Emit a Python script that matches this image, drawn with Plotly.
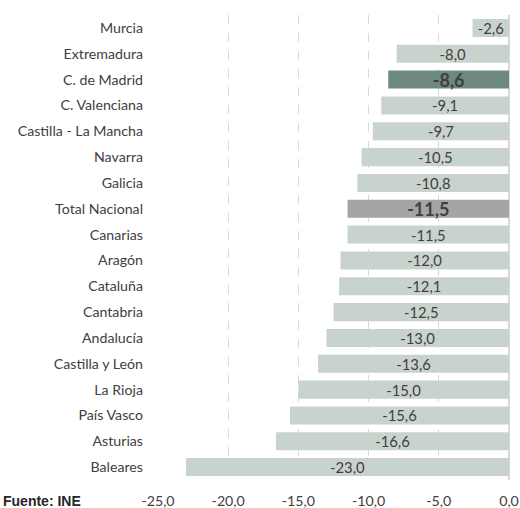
import plotly.graph_objects as go

categories = ["Murcia", "Extremadura", "C. de Madrid", "C. Valenciana", "Castilla - La Mancha",
              "Navarra", "Galicia", "Total Nacional", "Canarias", "Aragón", "Cataluña",
              "Cantabria", "Andalucía", "Castilla y León", "La Rioja", "País Vasco",
              "Asturias", "Baleares"]
values = [-2.6, -8.0, -8.6, -9.1, -9.7, -10.5, -10.8, -11.5, -11.5, -12.0, -12.1,
          -12.5, -13.0, -13.6, -15.0, -15.6, -16.6, -23.0]
tick_values = [-25, -20, -15, -10, -5, 0]
tick_labels = ["-25,0", "-20,0", "-15,0", "-10,0", "-5,0", "0,0"]

highlight = {"C. de Madrid": "#6E8A7F", "Total Nacional": "#A5A5A5"}
colors = [highlight.get(c, "#C9D3CE") for c in categories]
labels = [f"{v:.1f}".replace(".", ",") for v in values]
text_html = [f"<b>{t}</b>" if c in highlight else t for c, t in zip(categories, labels)]
text_sizes = [18 if c in highlight else 14.8 for c in categories]

fig = go.Figure(go.Bar(
    x=values, y=categories, orientation="h",
    marker=dict(color=colors, line=dict(width=0)),
    text=text_html, textposition="inside", insidetextanchor="middle",
    constraintext="none",
    textfont=dict(family="Lato", size=text_sizes, color="#404040"),
    hoverinfo="skip",
))

fig.update_layout(
    width=520, height=508,
    margin=dict(l=157.5, r=11, t=15, b=27.6, autoexpand=False),
    paper_bgcolor="white", plot_bgcolor="white",
    bargap=0.3, showlegend=False,
    font=dict(family="Lato", size=14, color="#404040"),
    xaxis=dict(range=[-25, 0], tickvals=tick_values, ticktext=tick_labels,
               automargin=False,
               showgrid=True, gridcolor="#D9D9D9", griddash="dash", gridwidth=1,
               zeroline=True, zerolinecolor="#D9D9D9", zerolinewidth=1.5,
               showline=False, ticks="", ticklabelstandoff=11,
               tickfont=dict(size=14.2, color="#404040")),
    yaxis=dict(autorange="reversed", automargin=False,
               showgrid=False, zeroline=False, showline=False,
               ticks="", ticklabelstandoff=14, tickfont=dict(size=14.2, color="#404040")),
    annotations=[dict(text="<b>Fuente: INE</b>", xref="paper", yref="paper",
                      x=-0.448, y=-0.046, xanchor="left", yanchor="middle", showarrow=False,
                      font=dict(family="Liberation Sans", size=14, color="#262626"))],
)

fig.write_html("out.html", config={"displayModeBar": False},
               post_script="document.body.style.margin='0px';")
